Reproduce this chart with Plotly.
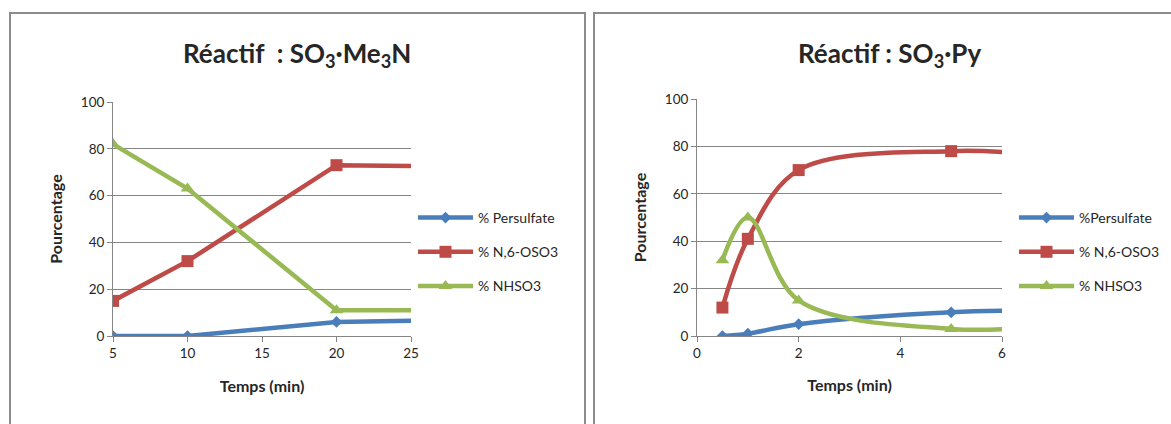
import plotly.graph_objects as go

# ---- data ----
t_me3n = [5, 10, 20, 30]
pers_me3n = [0, 0, 6, 7]
n6_me3n = [15, 32, 73, 72.4]
nh_me3n = [82, 63, 11, 11]

t_py = [0.5, 1, 2, 5, 6.5]
pers_py = [0, 1, 5, 10, 10.7]
n6_py = [12, 41, 70, 78, 76.8]
nh_py = [32, 50, 15, 3, 3.6]

names_me3n = ["% Persulfate", "% N,6-OSO3", "% NHSO3"]
names_py = ["%Persulfate", "% N,6-OSO3", "% NHSO3"]

W, H = 1171, 424
FONT = "Lato"
BLUE, RED, GREEN = "#4A7EBB", "#BE4B48", "#98B954"
GRID = "#868686"
BORDER = "#8C8C8C"
TXT = "#262626"

def px(x):
    return x / W

def py(y):
    return (H - y) / H

fig = go.Figure()

styles = [(BLUE, "diamond", 9), (RED, "square", 12), (GREEN, "triangle-up", 12)]

for vals, name, (c, sym, sz) in zip([pers_me3n, n6_me3n, nh_me3n], names_me3n, styles):
    fig.add_trace(go.Scatter(x=t_me3n, y=vals, name=name, mode="lines+markers",
                             line=dict(color=c, width=4.5),
                             marker=dict(color=c, symbol=sym, size=sz),
                             xaxis="x", yaxis="y", legend="legend",
                             legendgroup="a" + name))

for vals, name, (c, sym, sz) in zip([pers_py, n6_py, nh_py], names_py, styles):
    fig.add_trace(go.Scatter(x=t_py, y=vals, name=name, mode="lines+markers",
                             line=dict(color=c, width=4.5, shape="spline", smoothing=1),
                             marker=dict(color=c, symbol=sym, size=sz),
                             xaxis="x2", yaxis="y2", legend="legend2",
                             legendgroup="b" + name))

axis_common = dict(showline=True, linecolor=GRID, linewidth=1,
                   ticks="outside", ticklen=5, tickcolor=GRID,
                   tickfont=dict(family=FONT, size=13.5, color=TXT),
                   zeroline=False, automargin=False)
title_font = dict(size=16, family=FONT, color=TXT)

fig.update_layout(
    width=W, height=H,
    margin=dict(l=0, r=0, t=0, b=0, pad=0, autoexpand=False),
    paper_bgcolor="white", plot_bgcolor="white",
    font=dict(family=FONT, color=TXT),
    xaxis=dict(domain=[px(113), px(411)], range=[5, 25], dtick=5,
               showgrid=False, anchor="y",
               title=dict(text="<b>Temps (min)</b>", font=title_font, standoff=20),
               **axis_common),
    yaxis=dict(domain=[py(336), py(102)], range=[0, 100], dtick=20,
               showgrid=True, gridcolor=GRID, gridwidth=1, anchor="x",
               title=dict(text="<b>Pourcentage</b>", font=title_font, standoff=14),
               **axis_common),
    xaxis2=dict(domain=[px(697), px(1002)], range=[0, 6], dtick=2,
                showgrid=False, anchor="y2",
                title=dict(text="<b>Temps (min)</b>", font=title_font, standoff=19),
                **axis_common),
    yaxis2=dict(domain=[py(336), py(99)], range=[0, 100], dtick=20,
                showgrid=True, gridcolor=GRID, gridwidth=1, anchor="x2",
                title=dict(text="<b>Pourcentage</b>", font=title_font, standoff=14),
                **axis_common),
    legend=dict(x=px(413), y=py(202), xanchor="left", yanchor="top",
                font=dict(family=FONT, size=14, color=TXT), itemwidth=55,
                tracegroupgap=13, bgcolor="rgba(0,0,0,0)"),
    legend2=dict(x=px(1014), y=py(202), xanchor="left", yanchor="top",
                 font=dict(family=FONT, size=14, color=TXT), itemwidth=55,
                 tracegroupgap=13, bgcolor="rgba(0,0,0,0)"),
)

# panel borders (left, top, right edges; the panels run past the bottom of the picture)
for x0, x1 in [(10, 585), (594, 1185)]:
    fig.add_shape(type="path", xref="paper", yref="paper",
                  path=f"M {px(x0)} {py(450)} L {px(x0)} {py(13)} L {px(x1)} {py(13)} L {px(x1)} {py(450)}",
                  line=dict(color=BORDER, width=2), layer="below")

# titles
fig.add_annotation(xref="paper", yref="paper", x=px(297), y=py(54),
                   xanchor="center", yanchor="middle",
                   text="<b>Réactif  : SO<sub>3</sub>·Me<sub>3</sub>N</b>",
                   showarrow=False, font=dict(family=FONT, size=26, color=TXT))
fig.add_annotation(xref="paper", yref="paper", x=px(889), y=py(54),
                   xanchor="center", yanchor="middle",
                   text="<b>Réactif : SO<sub>3</sub>·Py</b>",
                   showarrow=False, font=dict(family=FONT, size=26, color=TXT))

fig.write_html("out.html", config=dict(displayModeBar=False),
               post_script="document.documentElement.style.margin='0';"
                           "document.body.style.margin='0';"
                           "document.body.style.overflow='hidden';")
